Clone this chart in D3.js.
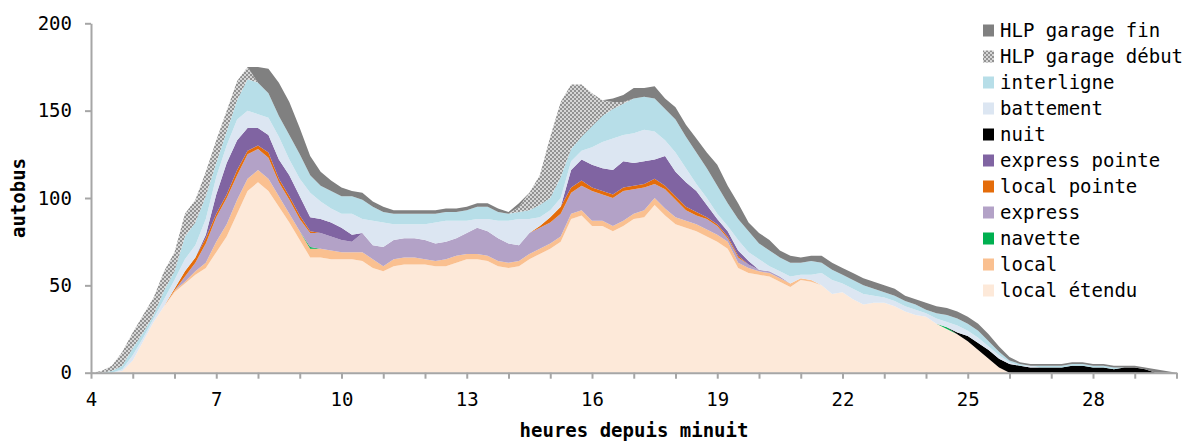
<!DOCTYPE html>
<html lang="fr">
<head>
<meta charset="utf-8">
<script src="https://cdn.jsdelivr.net/npm/d3@7"></script>
<style>
  body { margin: 0; background: #fff; }
  svg { display: block; }
  text { font-family: "DejaVu Sans Mono", monospace; }
</style>
</head>
<body>
<svg id="chart" width="1188" height="442"></svg>
<script>
// Heures depuis minuit (pas de 15 minutes)
const heures = [4,4.25,4.5,4.75,5,5.25,5.5,5.75,6,6.25,6.5,6.75,7,7.25,7.5,7.75,8,8.25,8.5,8.75,
  9,9.25,9.5,9.75,10,10.25,10.5,10.75,11,11.25,11.5,11.75,12,12.25,12.5,12.75,13,13.25,13.5,13.75,
  14,14.25,14.5,14.75,15,15.25,15.5,15.75,16,16.25,16.5,16.75,17,17.25,17.5,17.75,18,18.25,18.5,18.75,
  19,19.25,19.5,19.75,20,20.25,20.5,20.75,21,21.25,21.5,21.75,22,22.25,22.5,22.75,23,23.25,23.5,23.75,
  24,24.25,24.5,24.75,25,25.25,25.5,25.75,26,26.25,26.5,26.75,27,27.25,27.5,27.75,28,28.25,28.5,28.75,
  29,29.25,29.5,29.75,30];

// Nombre d'autobus en service par type
const localEtendu = [0,0,0,1,7,18,29,38,46,51, 56,60,69,78,91,104,109,104,95,86,
  76,66,66,65,65,65,64,60,58,61, 62,62,62,61,61,63,65,65,64,61,
  60,61,65,68,71,75,88,90,84,84, 81,84,88,89,96,90,85,83,81,78,
  75,71,60,57,56,55,52,49,53,52, 50,45,46,42,39,40,40,38,35,33,
  32,28,25,22,18,13,8,3,0,0, 0,0,0,0,0,0,0,0,0,0, 0,0,0,0,0];
const local = [0,0,0,0,0,0,0,0,1,1, 2,3,6,7,8,7,7,7,6,5,
  5,5,5,5,4,4,5,5,3,4, 4,4,3,3,4,4,3,3,3,3,
  3,3,3,3,3,3,3,3,3,3, 3,3,3,4,4,4,4,4,4,4,
  4,4,3,3,2,2,2,2,1,1, 0,0,0,0,0,0,0,0,0,0,
  0,0,0,0,0,0,0,0,0,0, 0,0,0,0,0,0,0,0,0,0, 0,0,0,0,0];
const navette = [0,0,0,0,0,0,0,0,0,0, 0,0,0,0,0,0,0,0,0,0,
  0,1,0,0,0,0,0,0,0,0, 0,0,0,0,0,0,0,0,0,0,
  0,0,0,0,0,0,0,0,0,0, 0,0,0,0,0,0,0,0,0,0,
  0,0,0,0,0,0,0,0,0,0, 0,0,0,0,0,0,0,0,0,0,
  0,0,1,0,0,0,0,0,0,0, 0,0,0,0,0,0,0,0,0,0, 0,0,0,0,0];
const express = [0,0,0,0,0,0,0,0,0,3, 5,11,14,15,14,14,12,12,8,8,
  7,8,9,8,7,6,11,8,11,11, 11,11,11,10,10,10,12,15,14,13,
  11,9,12,12,12,13,12,14,17,15, 16,17,14,13,8,11,10,6,5,6,
  5,2,3,2,1,1,1,0,0,0, 0,0,0,0,0,0,0,0,0,0,
  0,0,0,0,0,0,0,0,0,0, 0,0,0,0,0,0,0,0,0,0, 0,0,0,0,0];
const localPointe = [0,0,0,0,0,0,0,0,1,3, 3,3,2,2,3,2,2,3,2,2,
  2,1,0,0,0,0,0,0,0,0, 0,0,0,0,0,0,0,0,0,0,
  0,0,0,1,3,4,3,3,2,2, 2,2,2,2,3,2,2,2,2,1,
  1,1,1,0,0,0,0,0,0,0, 0,0,0,0,0,0,0,0,0,0,
  0,0,0,0,0,0,0,0,0,0, 0,0,0,0,0,0,0,0,0,0, 0,0,0,0,0];
const expressPointe = [0,0,0,0,0,0,0,0,0,0, 0,2,11,18,17,13,10,10,11,12,
  11,8,8,8,7,4,0,0,0,0, 0,0,0,0,0,0,0,0,0,0,
  0,0,0,0,0,0,10,12,13,13, 14,15,13,13,11,17,14,14,12,7,
  3,3,3,2,0,0,0,0,0,0, 0,0,0,0,0,0,0,0,0,0,
  0,0,0,0,0,0,0,0,0,0, 0,0,0,0,0,0,0,0,0,0, 0,0,0,0,0];
const nuit = [0,0,0,0,0,0,0,0,0,0, 0,0,0,0,0,0,0,0,0,0,
  0,0,0,0,0,0,0,0,0,0, 0,0,0,0,0,0,0,0,0,0,
  0,0,0,0,0,0,0,0,0,0, 0,0,0,0,0,0,0,0,0,0,
  0,0,0,0,0,0,0,0,0,0, 0,0,0,0,0,0,0,0,0,0,
  0,0,0,1,3,4,5,5,5,4, 3,3,3,3,4,4,3,3,2,3, 3,2,0,0,0];
const battement = [0,0,0,1,3,2,2,4,5,7, 7,9,10,10,12,10,8,10,13,9,
  10,14,10,8,8,12,8,14,14,9, 8,8,9,12,12,10,7,5,7,10,
  13,15,8,5,4,5,5,5,10,15, 18,15,17,18,16,9,11,8,4,4,
  3,3,6,5,6,3,3,4,2,3, 7,8,5,6,6,4,3,3,3,3,
  2,3,3,4,3,3,2,2,1,0, 1,0,0,0,0,0,0,0,0,0, 0,0,0,0,0];
const interligne = [0,0,1,2,4,3,2,5,5,13, 13,13,8,8,11,18,18,14,12,14,
  14,10,9,10,10,10,11,8,6,6, 6,6,6,5,5,5,6,7,7,5,
  4,4,5,7,7,12,7,8,12,15, 17,18,20,19,19,18,19,18,18,17,
  16,13,12,12,9,9,8,8,7,8, 6,6,5,5,5,4,3,3,3,3,
  2,3,4,4,4,4,3,2,1,1, 0,1,1,1,1,1,1,1,1,0, 0,0,0,0,0];
const garageDebut = [0,1,3,8,9,10,10,11,11,13, 13,14,13,12,11,7,0,0,0,0,
  0,0,0,0,0,0,0,0,0,0, 0,0,0,0,0,0,0,0,0,0,
  0,3,10,17,35,43,37,30,19,9, 4,1,0,0,0,0,0,0,0,0,
  0,0,0,0,0,0,0,0,0,0, 0,0,0,0,0,0,0,0,0,0,
  0,0,0,0,0,0,0,0,0,0, 0,0,0,0,0,0,0,0,0,0, 0,0,0,0,0];
const garageFin = [0,0,0,0,0,0,0,0,0,0, 0,0,0,0,0,0,9,14,19,19,
  15,11,8,6,5,3,4,3,3,2, 2,2,2,2,2,2,2,2,2,2,
  1,2,0,0,0,0,0,0,0,0, 2,4,6,5,7,6,7,7,8,9,
  12,10,9,5,6,6,4,4,3,3, 4,4,4,4,4,4,4,4,3,3,
  4,4,4,4,4,4,4,3,2,1, 1,1,1,1,1,1,1,1,1,1, 1,1,2,1,0];

// Graduations
const ticksX = [4,5,6,7,8,9,10,11,12,13,14,15,16,17,18,19,20,21,22,23,24,25,26,27,28,29,30];
const labelsX = [4,7,10,13,16,19,22,25,28];
const ticksY = [0,50,100,150,200];

// Séries empilées, de bas en haut
const series = [
  {key: "localEtendu",   label: "local étendu",     values: localEtendu,   fill: "#fde9d9"},
  {key: "local",         label: "local",            values: local,         fill: "#fac090"},
  {key: "navette",       label: "navette",          values: navette,       fill: "#00b050"},
  {key: "express",       label: "express",          values: express,       fill: "#b3a2c7"},
  {key: "localPointe",   label: "local pointe",     values: localPointe,   fill: "#e46c0a"},
  {key: "expressPointe", label: "express pointe",   values: expressPointe, fill: "#8064a2"},
  {key: "nuit",          label: "nuit",             values: nuit,          fill: "#000000"},
  {key: "battement",     label: "battement",        values: battement,     fill: "#dce6f2"},
  {key: "interligne",    label: "interligne",       values: interligne,    fill: "#b7dee8"},
  {key: "garageDebut",   label: "HLP garage début", values: garageDebut,   fill: "url(#damier)"},
  {key: "garageFin",     label: "HLP garage fin",   values: garageFin,     fill: "#808080"}
];

const svg = d3.select("#chart");

// Motif en damier pour le haut-le-pied de début de service
const pat = svg.append("defs").append("pattern")
  .attr("id", "damier").attr("width", 4).attr("height", 4)
  .attr("patternUnits", "userSpaceOnUse");
pat.append("rect").attr("width", 4).attr("height", 4).attr("fill", "#d6d6d6");
pat.append("rect").attr("width", 2).attr("height", 2).attr("fill", "#929292");
pat.append("rect").attr("x", 2).attr("y", 2).attr("width", 2).attr("height", 2).attr("fill", "#929292");

const x = d3.scaleLinear().domain([4, 30]).range([91, 1176.5]);
const y = d3.scaleLinear().domain([0, 200]).range([372.7, 23.3]);

const rows = heures.map((h, i) => {
  const r = {heure: h};
  series.forEach(s => { r[s.key] = s.values[i]; });
  return r;
});

const stacked = d3.stack().keys(series.map(s => s.key))(rows);

const area = d3.area()
  .x(d => x(d.data.heure))
  .y0(d => y(d[0]))
  .y1(d => y(d[1]));

svg.append("g").selectAll("path")
  .data(stacked)
  .join("path")
  .attr("d", area)
  .attr("fill", (d, i) => series[i].fill);

// Axes
const axisColor = "#a6a6a6";
const gx = svg.append("g")
  .attr("transform", `translate(0,${y(0)})`)
  .call(d3.axisBottom(x).tickValues(ticksX)
    .tickFormat(d => labelsX.includes(d) ? d : "")
    .tickSize(6).tickSizeOuter(0).tickPadding(14));
const gy = svg.append("g")
  .attr("transform", `translate(${x(4)},0)`)
  .call(d3.axisLeft(y).tickValues(ticksY).tickSize(6).tickSizeOuter(0).tickPadding(13));

[gx, gy].forEach(g => {
  g.attr("font-family", null).attr("font-size", null);
  g.select(".domain").attr("stroke", axisColor).attr("stroke-width", 2);
  g.selectAll(".tick line").attr("stroke", axisColor).attr("stroke-width", 2);
  g.selectAll(".tick text").attr("fill", "#000").style("font-size", "19px");
});

svg.append("text")
  .attr("x", 634).attr("y", 437)
  .attr("text-anchor", "middle")
  .style("font-size", "19px").style("font-weight", "bold")
  .text("heures depuis minuit");

svg.append("text")
  .attr("transform", "translate(25,198) rotate(-90)")
  .attr("text-anchor", "middle")
  .style("font-size", "19px").style("font-weight", "bold")
  .text("autobus");

// Légende, du haut de la pile vers le bas
const legend = svg.append("g");
const legendItems = series.slice().reverse();
legendItems.forEach((s, i) => {
  legend.append("rect")
    .attr("x", 983).attr("y", 24.5 + i * 26)
    .attr("width", 11).attr("height", 12)
    .attr("fill", s.fill);
  legend.append("text")
    .attr("x", 1000).attr("y", 36.5 + i * 26)
    .style("font-size", "19px")
    .text(s.label);
});
</script>
</body>
</html>
